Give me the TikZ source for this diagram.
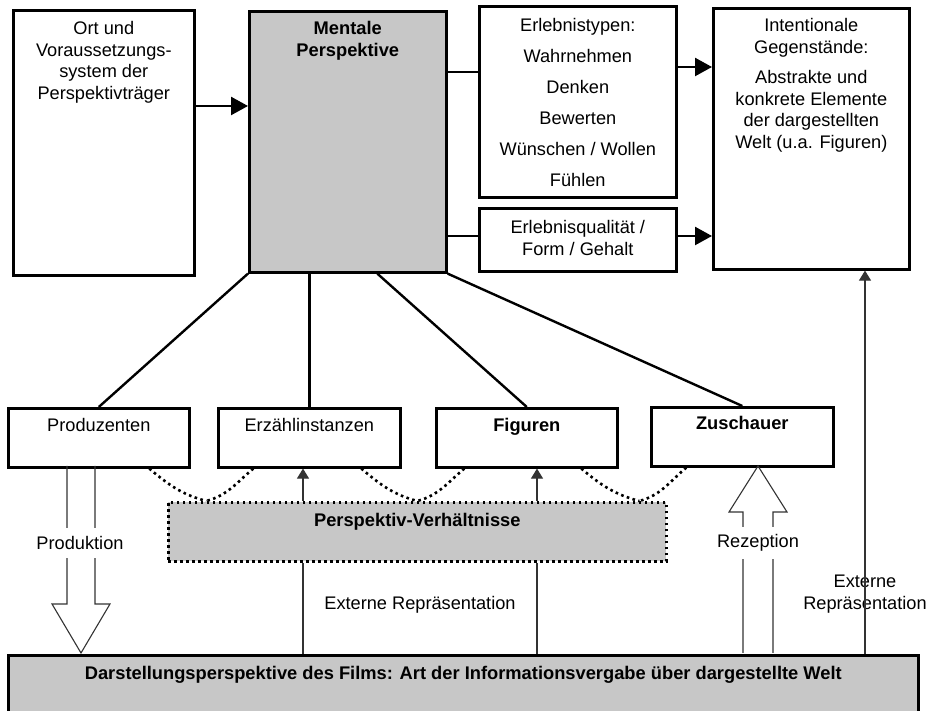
\documentclass[tikz,border=0pt]{standalone}
\usepackage{fontspec}
\setmainfont{Liberation Sans}
\usetikzlibrary{arrows.meta}
\definecolor{panelgray}{gray}{0.78}

\tikzset{
  box/.style={draw, line width=2.6pt, anchor=north west, inner sep=0pt},
  shaded/.style={box, fill=panelgray},
  txt/.style={font=\fontsize{18.2}{21.5}\selectfont, align=center,
    anchor=north, inner sep=0pt},
  btxt/.style={txt, font=\fontsize{18.3}{21.5}\selectfont\bfseries},
  link/.style={line width=2.4pt},
  arr/.style={link, -{Triangle[length=17pt,width=18pt]}},
  fine/.style={line width=1.1pt, black!80},
  finearr/.style={fine, -{Triangle[length=10pt,width=12pt]}},
  dots/.style={line width=2.6pt, dash pattern=on 2.6pt off 3.4pt},
  hollow/.style={line width=1.1pt, black!80, line join=miter},
}

\begin{document}
\begin{tikzpicture}[x=1pt, y=1pt]
  \useasboundingbox (0,0) rectangle (937,711);
  \clip (0,0) rectangle (937,711);

  % upper row
  \node[box, minimum width=181pt, minimum height=265pt] (ort) at (12,702) {};
  \node[shaded, minimum width=197pt, minimum height=261pt] (mental) at (248,701) {};
  \node[box, minimum width=197pt, minimum height=191pt] (erleb) at (478,706) {};
  \node[box, minimum width=197pt, minimum height=63pt] (quali) at (478,504) {};
  \node[box, minimum width=196pt, minimum height=261pt] (inten) at (712,704) {};

  \node[txt] (ort-t) at ([yshift=-12.5pt]ort.north)
    {Ort und\\Voraussetzungs-\\system der\\Perspektivträger};
  \node[btxt] (mental-t) at ([yshift=-11.5pt]mental.north) {Mentale\\Perspektive};
  \node[txt, font=\fontsize{18.2}{31}\selectfont] (erleb-t) at ([yshift=-13.5pt]erleb.north)
    {Erlebnistypen:\\Wahrnehmen\\Denken\\Bewerten\\Wünschen / Wollen\\Fühlen};
  \node[txt] (quali-t) at ([yshift=-13.5pt]quali.north) {Erlebnisqualität /\\Form / Gehalt};
  \node[txt] (inten-t) at ([yshift=-11.5pt]inten.north)
    {Intentionale\\Gegenstände:\\[9pt]Abstrakte und\\konkrete Elemente\\der dargestellten\\Welt (u.a. Figuren)};

  % perspective carriers
  \node[box, minimum width=181pt, minimum height=59pt] (prod) at (7,304) {};
  \node[box, minimum width=182pt, minimum height=59pt] (erz) at (217,304) {};
  \node[box, minimum width=181pt, minimum height=59pt] (fig) at (435,304) {};
  \node[box, minimum width=182pt, minimum height=59pt] (zus) at (650,305) {};

  \node[txt] (prod-t) at ([yshift=-11pt]prod.north) {Produzenten};
  \node[txt] (erz-t) at ([yshift=-11pt]erz.north) {Erzählinstanzen};
  \node[btxt] (fig-t) at ([yshift=-11pt]fig.north) {Figuren};
  \node[btxt] (zus-t) at ([yshift=-10.5pt]zus.north) {Zuschauer};

  % dotted relations
  \node[box, fill=panelgray, dots, minimum width=498pt, minimum height=59pt] (pv) at (167,210) {};
  \node[btxt] (pv-t) at ([yshift=-12.5pt]pv.north) {Perspektiv-Verhältnisse};
  \foreach \b/\dx/\m/\o/\i in {prod/50.5/-211/-40/165, erz/-56/-211/-140/15,
      erz/52/0/-40/165, fig/-62.5/0/-140/15, fig/54.5/222/-40/165,
      zus/-56/222/-140/15}{
    \draw[dots] ([xshift=\dx pt]\b.south) to[out=\o,in=\i] ([xshift=\m pt]pv.north);
  }

  \node[shaded, minimum width=910pt, minimum height=80pt] (film) at (7,57) {};
  \node[btxt] (film-t) at ([yshift=-12.5pt]film.north)
    {Darstellungsperspektive des Films: Art der Informationsvergabe über dargestellte Welt};

  % connectors
  \coordinate (h1) at (0,605);
  \coordinate (h2) at (0,639);
  \coordinate (h3) at (0,644);
  \coordinate (h4) at (0,475);
  \draw[arr] (ort.east |- h1) -- (mental.west |- h1);
  \draw[link] (mental.east |- h2) -- (erleb.west |- h2);
  \draw[arr] (erleb.east |- h3) -- (inten.west |- h3);
  \draw[link] (mental.east |- h4) -- (quali.west |- h4);
  \draw[arr] (quali.east |- h4) -- (inten.west |- h4);

  \draw[link] (mental.south west) -- (prod.north);
  \draw[link] (mental.south -| erz.north) -- (erz.north);
  \draw[link] ([xshift=29.5pt]mental.south) -- (fig.north);
  \draw[link] (mental.south east) -- (zus.north);

  \coordinate (v1) at (303,0);
  \coordinate (v2) at (537,0);
  \coordinate (v3) at (865,0);
  \draw[finearr] (pv.north -| v1) -- (erz.south -| v1);
  \draw[fine] (film.north -| v1) -- (pv.south -| v1);
  \draw[finearr] (pv.north -| v2) -- (fig.south -| v2);
  \draw[fine] (film.north -| v2) -- (pv.south -| v2);

  \node[txt, anchor=center] (ext) at (420,106) {Externe Repräsentation};
  \node[txt, anchor=center] (ext2) at (865,117) {Externe\\Repräsentation};
  \draw[finearr] (film.north -| v3) -- (inten.south -| v3);

  % hollow arrows
  \draw[hollow] (67,245) -- (67,107) -- (52,107) -- (81,58) -- (110,107) -- (95,107) -- (95,245);
  \draw[hollow] (743,58) -- (743,199) -- (729,199) -- (758,245) -- (787,199) -- (773,199) -- (773,58);
  \node[txt, anchor=center, fill=white, inner xsep=2pt, inner ysep=8pt] (prod-l) at (80,168) {Produktion};
  \node[txt, anchor=center, fill=white, inner xsep=2pt, inner ysep=8pt] (rez-l) at (758,168) {Rezeption};
\end{tikzpicture}
\end{document}
